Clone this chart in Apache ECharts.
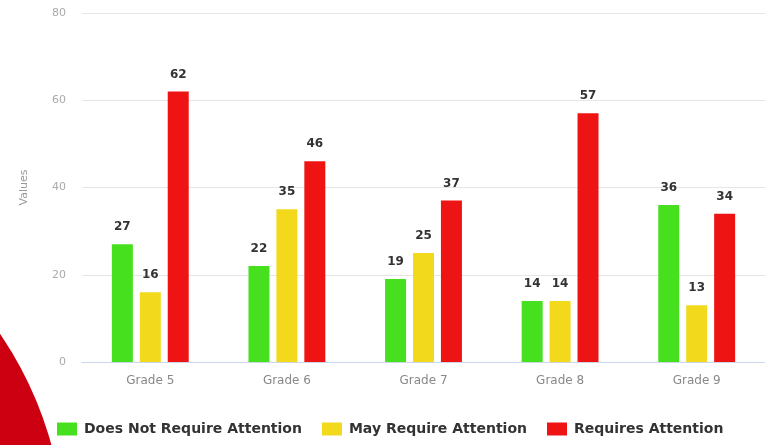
<!DOCTYPE html>
<html>
<head>
<meta charset="utf-8">
<style>
  html, body { margin: 0; padding: 0; background: #fff; }
  #chart { width: 765px; height: 445px; }
</style>
<script src="https://cdn.jsdelivr.net/npm/echarts@6/dist/echarts.min.js"></script>
</head>
<body>
<div id="chart"></div>
<script>
// data
var grades = ['Grade 5', 'Grade 6', 'Grade 7', 'Grade 8', 'Grade 9'];
var seriesNames = ['Does Not Require Attention', 'May Require Attention', 'Requires Attention'];
var noAttention = [27, 22, 19, 14, 36];
var mayAttention = [16, 35, 25, 14, 13];
var needsAttention = [62, 46, 37, 57, 34];
var colors = ['#47e01f', '#f2d91c', '#ef1414'];

var chart = echarts.init(document.getElementById('chart'));

// 柱子样式
function barSeries(name, data, color) {
  return {
    name: name,
    type: 'bar',
    data: data,
    barWidth: 21,
    barGap: '33%',
    itemStyle: { color: color },
    label: {
      show: true,
      position: 'top',
      distance: 11,
      color: '#333',
      fontWeight: 'bold',
      fontSize: 12,
      fontFamily: 'DejaVu Sans'
    }
  };
}

var option = {
  animation: false,
  color: colors,
  graphic: [{
    type: 'circle',
    shape: { cx: -300, cy: 540, r: 364 },
    style: { fill: '#cc0010' },
    z: -10
  }],
  grid: { left: 82, right: 0, top: 13, bottom: 83 },
  legend: {
    bottom: 4,
    left: 52,
    itemWidth: 20,
    itemHeight: 13,
    itemGap: 20,
    icon: 'rect',
    textStyle: { color: '#333', fontWeight: 'bold', fontSize: 14, fontFamily: 'DejaVu Sans', padding: [0, 0, 0, 2] },
    data: seriesNames
  },
  xAxis: {
    type: 'category',
    data: grades,
    axisLine: { lineStyle: { color: '#ccd6eb' } },
    axisTick: { length: 8, lineStyle: { color: '#ccd6eb' } },
    axisLabel: { color: '#888', fontSize: 12, margin: 13, fontFamily: 'DejaVu Sans' }
  },
  yAxis: {
    type: 'value',
    min: 0,
    max: 80,
    interval: 20,
    name: 'Values',
    nameLocation: 'middle',
    nameGap: 52,
    nameTextStyle: { color: '#999', fontSize: 11, fontFamily: 'DejaVu Sans' },
    axisLabel: { color: '#aaa', fontSize: 11, margin: 16, fontFamily: 'DejaVu Sans' },
    splitLine: { lineStyle: { color: '#e6e6e6' } }
  },
  series: [
    barSeries(seriesNames[0], noAttention, colors[0]),
    barSeries(seriesNames[1], mayAttention, colors[1]),
    barSeries(seriesNames[2], needsAttention, colors[2])
  ]
};

chart.setOption(option);
</script>
</body>
</html>
